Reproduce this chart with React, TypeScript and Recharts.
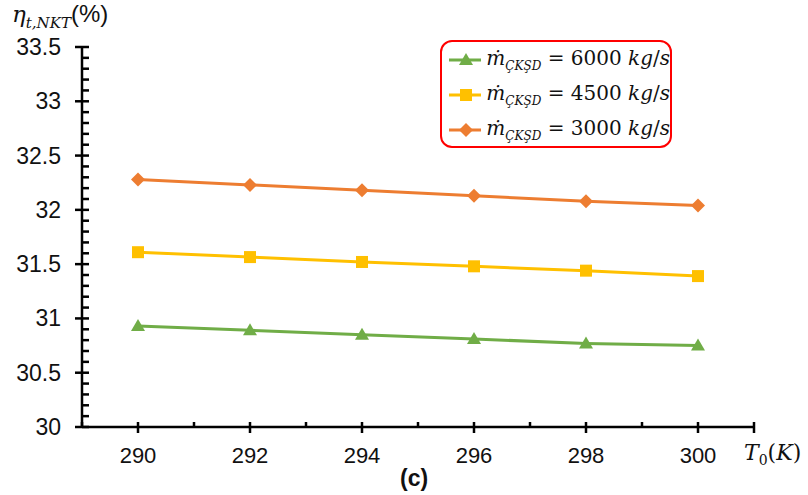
import React from 'react';
import { LineChart, Line, XAxis, YAxis, Legend } from 'recharts';

// 読み取った値
const temps = [290, 292, 294, 296, 298, 300];
const eta6000 = [30.93, 30.89, 30.85, 30.81, 30.77, 30.75];
const eta4500 = [31.61, 31.565, 31.52, 31.48, 31.44, 31.39];
const eta3000 = [32.28, 32.23, 32.18, 32.13, 32.08, 32.04];

const xTicks = [289, 290, 291, 292, 293, 294, 295, 296, 297, 298, 299, 300, 301];
const yTicks = Array.from({ length: 36 }, (_, i) => +(30 + i * 0.1).toFixed(1));

const data = temps.map((t, i) => ({
    t,
    a: eta6000[i],
    b: eta4500[i],
    c: eta3000[i],
}));

const GREEN = '#70AD47';
const YELLOW = '#FFC000';
const ORANGE = '#ED7D31';

const SANS = '"Liberation Sans", Arial, sans-serif';
const MATH = '"DejaVu Serif", "Liberation Serif", serif';

const series = [
    { key: 'a', color: GREEN, shape: 'triangle', value: '6000' },
    { key: 'b', color: YELLOW, shape: 'square', value: '4500' },
    { key: 'c', color: ORANGE, shape: 'diamond', value: '3000' },
];

const Marker = ({ shape, cx, cy, color }: any) => {
    if (shape === 'triangle') {
        return <polygon points={`${cx},${cy - 7} ${cx + 7},${cy + 5} ${cx - 7},${cy + 5}`} fill={color} />;
    }
    if (shape === 'square') {
        return <rect x={cx - 6} y={cy - 6} width={12} height={12} fill={color} />;
    }
    return <polygon points={`${cx},${cy - 7} ${cx + 7},${cy} ${cx},${cy + 7} ${cx - 7},${cy}`} fill={color} />;
};

const makeDot = (shape: string, color: string) => (props: any) => (
    <Marker key={props.key ?? `${shape}-${props.index}`} shape={shape} cx={props.cx} cy={props.cy} color={color} />
);

const XTick = (props: any) => {
    const { x, y, payload } = props;
    const v = payload.value;
    const major = v % 2 === 0;
    return (
        <g>
            <line x1={x} x2={x} y1={y - 5} y2={major || v === 301 ? y + 6 : y} stroke="#000" strokeWidth={2.5} />
            {major && (
                <text x={x} y={y + 36} textAnchor="middle" fontSize={22} fontFamily={SANS} fill="#111">
                    {v}
                </text>
            )}
        </g>
    );
};

const YTick = (props: any) => {
    const { x, y, payload } = props;
    const v = payload.value;
    const major = Math.abs(v * 2 - Math.round(v * 2)) < 1e-6;
    return (
        <g>
            <line x1={major ? x - 7 : x} x2={x + 7} y1={y} y2={y} stroke="#000" strokeWidth={2.5} />
            {major && (
                <text x={x - 21} y={y + 8} textAnchor="end" fontSize={23} fontFamily={SANS} fill="#111">
                    {v}
                </text>
            )}
        </g>
    );
};

const LegendBox = () => (
    <div
        style={{
            width: 232,
            height: 108,
            border: '2px solid #FF0000',
            borderRadius: 12,
            background: '#fff',
            boxSizing: 'border-box',
            padding: '0 0 0 5px',
        }}
    >
        {series.map((s) => (
            <div key={s.key} style={{ display: 'flex', alignItems: 'center', height: 35 }}>
                <svg width={38} height={20}>
                    <line x1={2} x2={36} y1={10} y2={10} stroke={s.color} strokeWidth={3} />
                    <Marker shape={s.shape} cx={19} cy={10} color={s.color} />
                </svg>
                <span style={{ fontFamily: MATH, fontSize: 20, color: '#111', marginLeft: 5, whiteSpace: 'nowrap' }}>
                    <i>ṁ</i>
                    <sub style={{ fontSize: 12, fontStyle: 'italic' }}>ÇKŞD</sub>
                    {' = '}
                    {s.value} <i>kg</i>/<i>s</i>
                </span>
            </div>
        ))}
    </div>
);

export default function App() {
    return (
        <div style={{ position: 'absolute', left: 0, top: 0, width: 808, height: 495, background: '#fff' }}>
            <LineChart width={808} height={495} data={data} margin={{ top: 47, right: 54, left: 0, bottom: 0 }}>
                <XAxis
                    dataKey="t"
                    type="number"
                    domain={[289, 301]}
                    ticks={xTicks}
                    interval={0}
                    tickSize={0}
                    tickMargin={0}
                    tickLine={false}
                    tick={<XTick />}
                    height={68}
                    axisLine={{ stroke: '#000', strokeWidth: 2.5 }}
                />
                <YAxis
                    type="number"
                    domain={[30, 33.5]}
                    ticks={yTicks}
                    interval={0}
                    tickSize={0}
                    tickMargin={0}
                    tickLine={false}
                    tick={<YTick />}
                    width={82}
                    axisLine={{ stroke: '#000', strokeWidth: 2.5 }}
                />
                <Legend
                    layout="vertical"
                    align="center"
                    verticalAlign="middle"
                    content={<LegendBox />}
                    wrapperStyle={{ position: 'absolute', left: 440, top: 40, width: 'auto' }}
                />
                {series.map((s) => (
                    <Line
                        key={s.key}
                        dataKey={s.key}
                        stroke={s.color}
                        strokeWidth={3}
                        dot={makeDot(s.shape, s.color)}
                        activeDot={false}
                        isAnimationActive={false}
                    />
                ))}
            </LineChart>
            {/* 軸タイトル */}
            <div style={{ position: 'absolute', left: 12, top: 0, fontFamily: MATH, fontSize: 23, color: '#111', whiteSpace: 'nowrap' }}>
                <i>η</i>
                <sub style={{ fontSize: 15, fontStyle: 'italic' }}>t,NKT</sub>
                <span style={{ fontFamily: SANS, fontSize: 24 }}>(%)</span>
            </div>
            <div style={{ position: 'absolute', left: 744, top: 440, fontFamily: MATH, fontSize: 22, color: '#111', whiteSpace: 'nowrap' }}>
                <i>T</i>
                <sub style={{ fontSize: 14 }}>0</sub>(<i>K</i>)
            </div>
            <div style={{ position: 'absolute', left: 400, top: 465, fontFamily: SANS, fontSize: 23, fontWeight: 'bold', color: '#111' }}>
                (c)
            </div>
        </div>
    );
}
